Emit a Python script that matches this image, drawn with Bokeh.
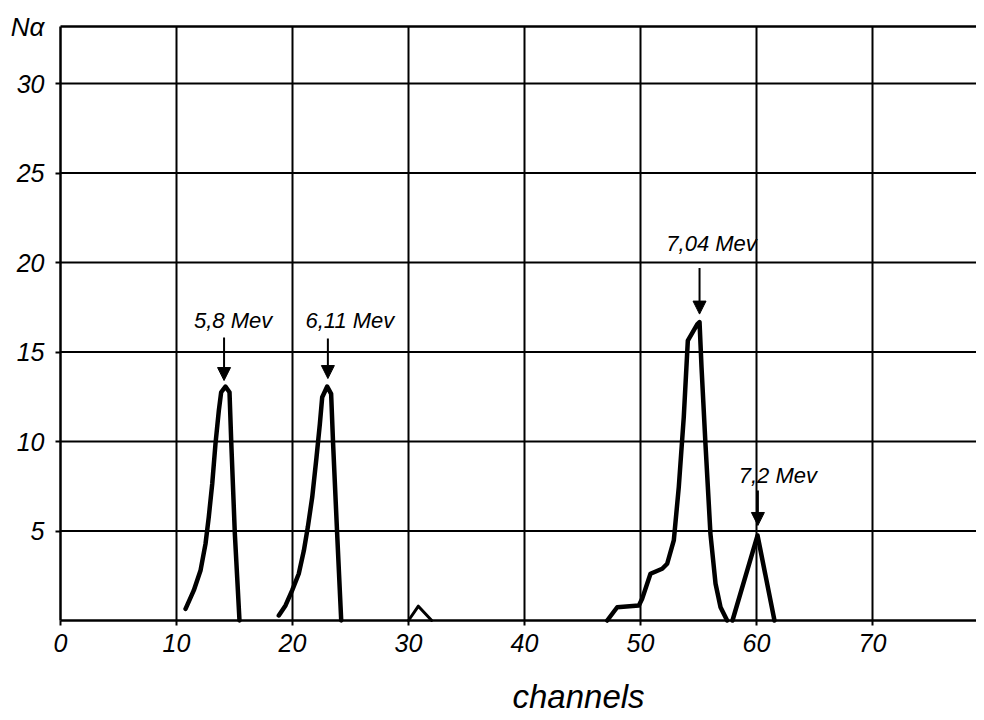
from bokeh.plotting import figure
from bokeh.models import Range1d, LinearAxis, FixedTicker, Label, Arrow, NormalHead
from bokeh.embed import file_html
from bokeh.resources import INLINE

# ---- data ----
x_ticks = [0, 10, 20, 30, 40, 50, 60, 70]
y_ticks = [5, 10, 15, 20, 25, 30]
x_max = 78.97
y_max = 33.18

peak1_ch = [10.78, 11.49, 12.07, 12.5, 12.78, 13.08, 13.36, 13.65, 13.85, 14.22, 14.57, 14.72, 15.03, 15.23, 15.43]
peak1_n = [0.65, 1.68, 2.79, 4.28, 5.77, 7.64, 9.87, 11.73, 12.75, 13.07, 12.75, 9.96, 4.84, 2.42, 0.0]

peak2_ch = [18.82, 19.4, 19.97, 20.54, 20.98, 21.32, 21.7, 22.07, 22.36, 22.56, 22.99, 23.33, 23.5, 23.85, 24.2]
peak2_n = [0.28, 0.84, 1.68, 2.61, 3.91, 5.21, 6.89, 9.12, 10.99, 12.47, 13.07, 12.66, 9.87, 4.84, 0.0]

bump_ch = [30.0, 30.85, 32.0]
bump_n = [0.0, 0.8, 0.0]

peak3_ch = [47.13, 47.99, 49.86, 50.14, 50.86, 51.87, 52.3, 52.87, 53.3, 53.73, 54.08, 54.89, 55.09,
            55.26, 55.6, 56.03, 56.47, 56.9, 57.47]
peak3_n = [0.0, 0.74, 0.84, 1.21, 2.61, 2.89, 3.17, 4.47, 7.45, 11.36, 15.64, 16.54, 16.67,
           14.15, 9.87, 4.84, 2.05, 0.74, 0.0]

peak4_ch = [57.93, 60.09, 61.55]
peak4_n = [0.0, 4.75, 0.0]

peak_labels = ["5,8 Mev", "6,11 Mev", "7,04 Mev", "7,2 Mev"]
peak_pos_ch = [14.1, 23.05, 55.09, 60.12]
peak_pos_n = [13.07, 13.07, 16.67, 4.75]

FONT = "Liberation Sans"
PX_X = 11.6   # pixels per channel
PX_Y = 17.9   # pixels per count

p = figure(frame_width=976, frame_height=718,
           x_range=Range1d(-60 / PX_X, 916 / PX_X), y_range=Range1d(-98 / PX_Y, 620 / PX_Y),
           output_backend="svg", toolbar_location=None,
           min_border=0, min_border_left=0, min_border_right=0, min_border_top=0,
           min_border_bottom=0)
p.outline_line_color = None
p.background_fill_color = "white"
p.border_fill_color = "white"
p.xgrid.visible = False
p.ygrid.visible = False

# grid lines over the plotting area only
gx = [t for t in x_ticks if t > 0]
p.segment(x0=gx, y0=[0] * len(gx), x1=gx, y1=[y_max] * len(gx), line_color="black", line_width=2)
p.segment(x0=[0] * len(y_ticks), y0=y_ticks, x1=[x_max] * len(y_ticks), y1=y_ticks,
          line_color="black", line_width=2)

for ax, ticks, loc, bnd in ((p.xaxis, x_ticks, 0, (0, x_max)), (p.yaxis, y_ticks, 0, (0, y_max))):
    ax.ticker = FixedTicker(ticks=ticks)
    ax.fixed_location = loc
    ax.bounds = bnd
    ax.axis_line_color = "black"
    ax.axis_line_width = 2.5
    ax.major_tick_line_color = "black"
    ax.major_tick_line_width = 2
    ax.major_tick_in = 0
    ax.major_tick_out = 5
    ax.minor_tick_line_color = None
    ax.major_label_text_font = FONT
    ax.major_label_text_font_style = "italic"
    ax.major_label_text_font_size = "25px"
    ax.major_label_text_color = "black"
p.xaxis.major_label_standoff = 8
p.yaxis.major_label_standoff = 11

top = LinearAxis(ticker=FixedTicker(ticks=[]), fixed_location=y_max, bounds=(0, x_max),
                 axis_line_width=2.5, axis_line_color="black",
                 major_label_text_font_size="0px", major_tick_line_color=None,
                 minor_tick_line_color=None)
p.add_layout(top, "above")

for xs, ys in ((peak1_ch, peak1_n), (peak2_ch, peak2_n), (bump_ch, bump_n),
               (peak3_ch, peak3_n), (peak4_ch, peak4_n)):
    w = 3 if xs is bump_ch else 4.5
    p.line(xs, ys, line_color="black", line_width=w, line_join="round", line_cap="round")

# annotations: offsets (screen px) relative to the peak top
text_dx = [9, 22, 12, 20]
text_dy = [66, 66, 79, 60]
arrow_top = [49, 48, 54, 45]
arrow_gap = [6, 8, 8, 10]
for i, lab in enumerate(peak_labels):
    xc = peak_pos_ch[i]
    yc = peak_pos_n[i]
    p.add_layout(Label(x=xc, y=yc, x_offset=text_dx[i], y_offset=text_dy[i], text=lab,
                       text_font=FONT, text_font_style="italic", text_font_size="22px",
                       text_align="center", text_baseline="middle", text_color="black"))
    p.add_layout(Arrow(x_start=xc, y_start=yc + arrow_top[i] / PX_Y, x_end=xc,
                       y_end=yc + arrow_gap[i] / PX_Y,
                       line_width=2, line_color="black",
                       end=NormalHead(size=13, fill_color="black", line_color="black")))

p.add_layout(Label(x=44.66, y=-76 / PX_Y, text="channels",
                   text_font=FONT, text_font_style="italic",
                   text_font_size="33px", text_align="center", text_baseline="middle",
                   text_color="black"))
p.add_layout(Label(x=-33 / PX_X, y=y_max, text="Nα",
                   text_font=FONT, text_font_style="italic",
                   text_font_size="26px", text_align="center", text_baseline="middle",
                   text_color="black"))

open("out.html", "w").write(file_html(p, INLINE))
